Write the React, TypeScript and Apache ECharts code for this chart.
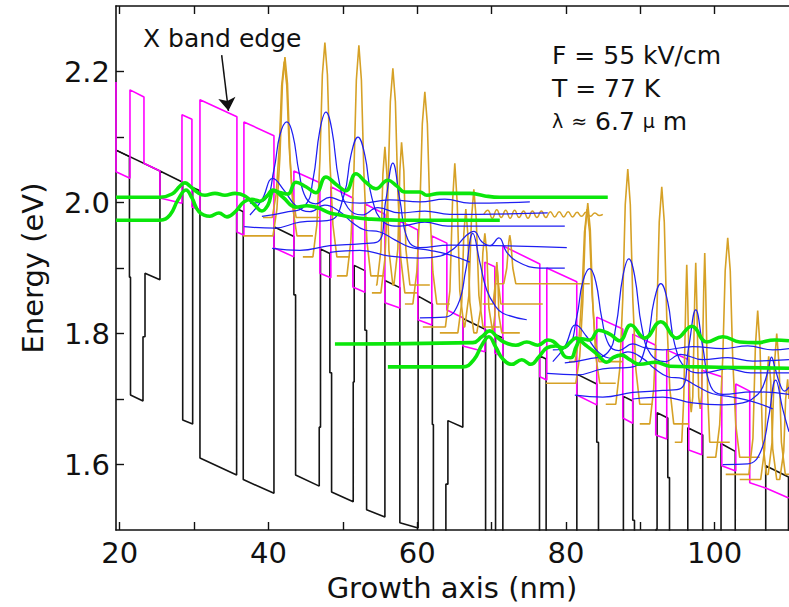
import React, { useEffect, useRef } from "react";
import * as echarts from "echarts";

// Axis ranges and ticks
const X_MIN = 19.5;
const X_MAX = 110;
const Y_MIN = 1.5;
const Y_MAX = 2.3;
const xTickValues = [20, 30, 40, 50, 60, 70, 80, 90, 100];
const xLabelValues = [20, 40, 60, 80, 100];
const yTickValues = [1.6, 1.7, 1.8, 1.9, 2.0, 2.1, 2.2];
const yLabelValues = [1.6, 1.8, 2.0, 2.2];

// Gamma conduction-band profile, growth position (nm) vs energy (eV)
const gammaBand = [
  [19.5, 2.08], [21.31, 2.07], [21.31, 1.886], [21.45, 1.886], [21.45, 1.706], [23.13, 1.697], [23.13, 1.795],
  [23.4, 1.795], [23.4, 1.892], [25.41, 1.882], [25.41, 2.048],
  [28.47, 2.031], [28.47, 1.668], [29.81, 1.662], [29.81, 2.023],
  [30.79, 2.018], [30.79, 1.61], [35.72, 1.584], [35.72, 1.991],
  [36.61, 1.986], [36.61, 1.577], [40.74, 1.556], [40.74, 1.963],
  [43.42, 1.948], [43.42, 1.859], [43.65, 1.859], [43.65, 1.584], [46.83, 1.567], [46.83, 1.657], [47.0, 1.657], [47.0, 1.929],
  [48.26, 1.922], [48.26, 1.74], [48.49, 1.74], [48.49, 1.558], [51.4, 1.543], [51.4, 1.726], [51.53, 1.726], [51.53, 1.904],
  [52.97, 1.896], [52.97, 1.805], [53.2, 1.805], [53.2, 1.531], [55.66, 1.52], [55.66, 1.881],
  [57.67, 1.87], [57.67, 1.511], [60.13, 1.503], [60.13, 1.857],
  [62.04, 1.845], [62.04, 1.661], [62.18, 1.661], [62.18, 1.481], [63.86, 1.472], [63.86, 1.57], [64.13, 1.57],
  [64.13, 1.667], [66.14, 1.657], [66.14, 1.823],
  [69.2, 1.806], [69.2, 1.443], [70.54, 1.437], [70.54, 1.798],
  [71.52, 1.793], [71.52, 1.385], [76.45, 1.359], [76.45, 1.766],
  [77.34, 1.761], [77.34, 1.352], [81.47, 1.331], [81.47, 1.738],
  [84.15, 1.723], [84.15, 1.634], [84.38, 1.634], [84.38, 1.359], [87.56, 1.342], [87.56, 1.432], [87.73, 1.432], [87.73, 1.704],
  [88.99, 1.697], [88.99, 1.515], [89.22, 1.515], [89.22, 1.333], [92.13, 1.318], [92.13, 1.501], [92.26, 1.501], [92.26, 1.679],
  [93.7, 1.671], [93.7, 1.58], [93.93, 1.58], [93.93, 1.306], [96.39, 1.295], [96.39, 1.656],
  [98.4, 1.645], [98.4, 1.286], [100.86, 1.278], [100.86, 1.632],
  [102.77, 1.62], [102.77, 1.436], [102.91, 1.436], [102.91, 1.256], [104.59, 1.247], [104.59, 1.345], [104.86, 1.345],
  [104.86, 1.442], [106.87, 1.432], [106.87, 1.598],
  [109.93, 1.581], [109.93, 1.218], [111.27, 1.212],
];
const gammaBarrierCap = [[19.5, 2.08], [25.41, 2.048]];

// X-valley band edge
const xBandEdge = [
  [19.5, 2.184], [19.5, 2.047], [21.38, 2.037], [21.38, 2.172], [23.26, 2.161], [23.26, 2.06], [25.41, 2.048],
  [25.41, 2.007], [28.37, 1.999], [28.37, 2.134], [29.71, 2.127], [29.71, 1.993], [30.79, 1.989], [30.79, 2.157],
  [35.76, 2.131], [35.76, 1.955], [36.7, 1.95], [36.7, 2.123], [40.74, 2.102], [40.74, 1.931], [43.42, 1.917],
  [43.42, 2.048], [46.92, 2.03], [46.92, 1.892], [48.39, 1.885], [48.39, 2.024], [51.35, 2.007], [51.35, 1.871],
  [52.97, 1.863], [52.97, 1.998], [55.66, 1.982], [55.66, 1.847], [57.67, 1.839], [57.67, 1.972], [60.09, 1.958],
  [60.09, 1.821], [61.97, 1.813], [61.97, 1.949], [63.99, 1.938], [63.99, 1.836], [66.14, 1.824], [66.14, 1.781],
  [69.1, 1.772], [69.1, 1.909], [70.44, 1.902], [70.44, 1.77], [71.52, 1.764], [71.52, 1.934], [76.49, 1.906],
  [76.49, 1.734], [77.43, 1.729], [77.43, 1.9], [81.46, 1.879], [81.46, 1.706], [84.15, 1.691], [84.15, 1.825],
  [87.65, 1.807], [87.65, 1.671], [88.99, 1.663], [88.99, 1.799], [92.08, 1.782], [92.08, 1.645], [93.56, 1.639],
  [93.56, 1.775], [96.52, 1.76], [96.52, 1.622], [98.27, 1.615], [98.27, 1.744], [100.96, 1.734], [100.96, 1.598],
  [102.84, 1.59], [102.84, 1.723], [104.72, 1.712], [104.72, 1.572], [106.87, 1.564], [109.96, 1.549],
];

// X-valley states (probability densities), first period
const orangeA0 = [[39.26, 1.977], [40.51, 1.977], [41.04, 2.013], [41.45, 2.084], [41.78, 2.179], [42.12, 2.215], [42.46, 2.179], [42.79, 2.084], [43.2, 2.013], [43.73, 1.977], [46.92, 1.977]];
const orangeA1 = [[36.61, 1.949], [40.61, 1.949], [41.14, 1.99], [41.55, 2.072], [41.88, 2.181], [42.22, 2.222], [42.56, 2.181], [42.89, 2.072], [43.3, 1.99], [43.83, 1.949], [45.98, 1.949]];
const orangeA2 = [[44.63, 1.917], [45.98, 1.917], [46.51, 1.966], [46.92, 2.064], [47.25, 2.195], [47.59, 2.244], [47.93, 2.195], [48.26, 2.064], [48.67, 1.966], [49.2, 1.917], [50.95, 1.917]];
const orangeA3 = [[49.2, 1.888], [50.55, 1.888], [51.08, 1.941], [51.49, 2.046], [51.82, 2.187], [52.16, 2.24], [52.5, 2.187], [52.83, 2.046], [53.24, 1.941], [53.77, 1.888], [55.52, 1.888]];
const orangeA4 = [[53.91, 1.862], [55.12, 1.862], [55.65, 1.913], [56.06, 2.016], [56.39, 2.154], [56.73, 2.205], [57.07, 2.154], [57.4, 2.016], [57.81, 1.913], [58.34, 1.862], [59.96, 1.862]];
const orangeA4b = [[54.45, 1.874], [54.58, 1.874], [55.12, 1.927], [55.39, 2.043], [55.66, 2.085], [55.93, 2.043], [56.2, 1.927], [56.73, 1.874], [56.87, 1.874], [57.4, 1.929], [57.67, 2.048], [57.9, 2.092], [58.21, 2.048], [58.48, 1.929], [59.02, 1.874], [61.7, 1.874]];
const orangeA5 = [[58.35, 1.845], [59.42, 1.845], [59.95, 1.894], [60.36, 1.991], [60.69, 2.12], [61.03, 2.169], [61.37, 2.12], [61.7, 1.991], [62.11, 1.894], [62.64, 1.845], [64.39, 1.845]];
const orangeA6 = [[60.76, 1.81], [63.8, 1.81], [64.4, 1.865], [64.75, 2.0], [65.06, 2.06], [65.38, 2.0], [65.73, 1.865], [66.3, 1.81], [66.4, 1.81], [66.95, 1.858], [67.3, 1.975], [67.62, 2.02], [67.94, 1.975], [68.3, 1.858], [68.85, 1.81], [71.11, 1.81]];
const orangeA7 = [[63.05, 1.801], [65.47, 1.801], [66.0, 1.848], [66.27, 1.952], [66.54, 1.99], [66.81, 1.952], [67.08, 1.848], [67.62, 1.801], [68.02, 1.801], [68.56, 1.839], [68.83, 1.923], [69.1, 1.953], [69.37, 1.923], [69.64, 1.839], [70.17, 1.801], [70.44, 1.828], [70.58, 1.887], [70.71, 1.909], [70.85, 1.887], [70.98, 1.828], [71.38, 1.801], [73.8, 1.801]];
const orangeA9 = [[70.44, 1.876], [71.65, 1.876], [72.05, 1.9], [72.32, 1.94], [72.45, 1.95], [72.59, 1.94], [72.86, 1.9], [73.26, 1.876], [83.21, 1.876]];
const orangeA10 = [[68.8, 1.845], [70.2, 1.845], [70.55, 1.88], [70.71, 1.905], [70.88, 1.88], [71.25, 1.845], [76.89, 1.845]];
// extended (continuum-like) state with small ripples
const orangeWavy = [
  [68.96, 1.982], [69.5, 1.988], [70.1, 1.976], [70.7, 1.989], [71.3, 1.977], [71.9, 1.988], [72.5, 1.976],
  [73.1, 1.988], [73.7, 1.977], [74.3, 1.987], [74.9, 1.976], [75.5, 1.987], [76.1, 1.977], [76.7, 1.987],
  [77.3, 1.977], [77.9, 1.986], [78.5, 1.978], [79.1, 1.986], [79.7, 1.978], [80.3, 1.986], [80.9, 1.978],
  [81.5, 1.985], [82.1, 1.979], [82.7, 1.985], [83.3, 1.979], [83.9, 1.984], [84.5, 1.98], [84.96, 1.982],
];
// X-valley states, second period
const orangeB0 = [[80.4, 1.757], [81.23, 1.757], [81.76, 1.792], [82.17, 1.862], [82.5, 1.955], [82.84, 1.99], [83.18, 1.955], [83.51, 1.862], [83.92, 1.792], [84.45, 1.757], [87.65, 1.757]];
const orangeB1 = [[77.3, 1.724], [81.33, 1.724], [81.86, 1.765], [82.27, 1.848], [82.6, 1.958], [82.94, 1.999], [83.28, 1.958], [83.61, 1.848], [84.02, 1.765], [84.55, 1.724], [86.7, 1.724]];
const orangeB2 = [[85.36, 1.692], [86.71, 1.692], [87.24, 1.746], [87.65, 1.854], [87.98, 1.997], [88.32, 2.051], [88.66, 1.997], [88.99, 1.854], [89.4, 1.746], [89.93, 1.692], [91.68, 1.692]];
const orangeB3 = [[89.93, 1.662], [91.28, 1.662], [91.81, 1.716], [92.22, 1.825], [92.55, 1.97], [92.89, 2.024], [93.23, 1.97], [93.56, 1.825], [93.97, 1.716], [94.5, 1.662], [96.52, 1.662]];
const orangeB4 = [[94.64, 1.634], [95.58, 1.634], [95.85, 1.702], [96.12, 1.851], [96.25, 1.905], [96.38, 1.851], [96.65, 1.702], [96.85, 1.68], [97.06, 1.703], [97.32, 1.853], [97.46, 1.908], [97.59, 1.853], [97.86, 1.703], [98.06, 1.685], [98.26, 1.706], [98.53, 1.865], [98.67, 1.923], [98.8, 1.865], [99.07, 1.706], [99.34, 1.634], [102.03, 1.634]];
const orangeB5 = [[98.94, 1.611], [100.15, 1.611], [100.68, 1.661], [101.09, 1.762], [101.42, 1.896], [101.76, 1.946], [102.1, 1.896], [102.43, 1.762], [102.84, 1.661], [103.37, 1.611], [106.06, 1.611]];
const orangeB6 = [[101.49, 1.585], [104.6, 1.585], [105.15, 1.64], [105.48, 1.78], [105.79, 1.835], [106.1, 1.78], [106.43, 1.64], [106.95, 1.585], [107.2, 1.585], [107.72, 1.634], [108.04, 1.752], [108.35, 1.8], [108.66, 1.752], [108.98, 1.634], [109.5, 1.585], [110, 1.585]];
const orangeB7 = [[103.37, 1.577], [106.19, 1.577], [106.73, 1.624], [107.0, 1.727], [107.27, 1.765], [107.54, 1.727], [107.81, 1.624], [108.35, 1.577], [108.75, 1.577], [109.29, 1.62], [109.55, 1.7], [109.82, 1.73], [110, 1.7]];

// Gamma-valley wavefunctions, first period
const blue1 = [[37.51, 1.999], [39.53, 2.004], [40.74, 2.05], [41.54, 2.103], [42.48, 2.123], [43.29, 2.103], [44.1, 2.047], [45.04, 2.007], [46.38, 1.998], [48.26, 2.008], [49.88, 2.002], [52.3, 1.999], [56.33, 2.004], [60.36, 2.001], [63.72, 2.005], [67.08, 1.999], [75.15, 2.001]];
const blue2 = [[39.12, 1.979], [42.22, 1.985], [44.9, 1.995], [45.98, 2.034], [46.92, 2.111], [47.73, 2.138], [48.53, 2.111], [49.47, 2.034], [50.68, 1.992], [52.57, 1.981], [54.71, 1.992], [57.67, 1.984], [61.03, 1.987], [64.39, 1.982], [77.56, 1.984]];
const blue3 = [[36.74, 1.963], [40.87, 1.961], [44.23, 1.97], [48.26, 1.973], [50.15, 2.011], [51.09, 2.072], [52.03, 2.1], [52.97, 2.072], [53.91, 2.007], [55.52, 1.97], [57.67, 1.964], [61.03, 1.97], [64.12, 1.964], [79.85, 1.964]];
const blue4 = [[40.5, 1.93], [44.23, 1.927], [48.26, 1.934], [52.3, 1.937], [54.71, 1.94], [55.79, 2.004], [56.73, 2.06], [57.67, 2.004], [58.75, 1.943], [60.36, 1.931], [64.39, 1.935], [80.12, 1.931]];
const blue5 = [[48.26, 1.924], [52.3, 1.927], [56.33, 1.918], [60.36, 1.915], [63.05, 1.918], [65.06, 1.931], [66.54, 1.949], [67.62, 1.956], [68.69, 1.94], [69.77, 1.934], [70.98, 1.946], [72.05, 1.924], [73.8, 1.908], [76.49, 1.9], [79.85, 1.9]];
const blue6 = [[37.51, 1.981], [39.12, 2.004], [40.6, 2.037], [42.08, 2.019], [43.69, 1.995], [45.58, 1.986], [47.59, 1.996], [49.61, 1.986], [51.22, 1.97], [52.97, 1.958], [54.98, 1.955], [56.99, 1.943], [59.02, 1.932], [61.7, 1.927], [64.39, 1.92], [67.08, 1.909]];
const blue7 = [[60.36, 1.824], [63.72, 1.825], [65.47, 1.844], [66.54, 1.897], [67.48, 1.953], [68.42, 1.909], [69.36, 1.866], [70.44, 1.843], [71.52, 1.831], [74.74, 1.821]];
// Gamma-valley wavefunctions, second period
const blue1b = [[78.24, 1.775], [80.26, 1.78], [81.47, 1.826], [82.27, 1.879], [83.21, 1.899], [84.02, 1.879], [84.83, 1.823], [85.77, 1.783], [87.11, 1.774], [88.99, 1.784], [90.61, 1.778], [93.03, 1.775], [97.06, 1.78], [101.09, 1.777], [104.45, 1.781], [107.81, 1.775], [110, 1.777]];
const blue2b = [[79.85, 1.755], [82.95, 1.761], [85.63, 1.771], [86.71, 1.81], [87.65, 1.887], [88.46, 1.914], [89.26, 1.887], [90.2, 1.81], [91.41, 1.768], [93.3, 1.757], [95.44, 1.768], [98.4, 1.76], [101.76, 1.763], [105.12, 1.758], [110, 1.76]];
const blue3b = [[77.47, 1.739], [81.6, 1.737], [84.96, 1.746], [88.99, 1.749], [90.88, 1.787], [91.82, 1.848], [92.76, 1.876], [93.7, 1.848], [94.64, 1.783], [96.25, 1.746], [98.4, 1.74], [101.76, 1.746], [104.85, 1.74], [110, 1.74]];
const blue4b = [[81.2, 1.706], [84.96, 1.703], [88.99, 1.71], [93.03, 1.713], [95.44, 1.716], [96.52, 1.78], [97.46, 1.836], [98.4, 1.78], [99.48, 1.719], [101.09, 1.707], [105.12, 1.711], [110, 1.707]];
const blue5b = [[88.99, 1.7], [93.03, 1.703], [97.06, 1.694], [101.09, 1.691], [103.78, 1.694], [105.79, 1.707], [106.6, 1.722], [107.27, 1.748], [107.65, 1.764], [108.1, 1.748], [108.8, 1.722], [109.4, 1.712], [110, 1.718]];
const blue6b = [[78.24, 1.757], [79.85, 1.78], [81.33, 1.813], [82.81, 1.795], [84.42, 1.771], [86.31, 1.762], [88.32, 1.772], [90.34, 1.762], [91.95, 1.746], [93.7, 1.734], [95.71, 1.731], [97.72, 1.719], [99.75, 1.708], [102.43, 1.703], [105.12, 1.696], [107.81, 1.685]];
const blue7b = [[101.09, 1.6], [104.45, 1.601], [106.2, 1.62], [107.27, 1.673], [108.21, 1.729], [109.15, 1.685], [110, 1.65]];

// Laser transition states (upper / lower), two periods
const greenUpper1 = [[19.5, 2.008], [25.41, 2.008], [27.03, 2.013], [28.1, 2.025], [28.77, 2.03], [29.45, 2.025], [30.39, 2.016], [31.46, 2.011], [32.81, 2.014], [34.15, 2.011], [35.5, 2.014], [36.84, 2.01], [38.18, 1.996], [39.12, 1.987], [39.93, 1.996], [40.74, 2.018], [41.68, 2.015], [42.62, 2.013], [43.69, 2.031], [45.04, 2.024], [46.38, 2.015], [47.73, 2.039], [49.07, 2.028], [50.42, 2.018], [51.76, 2.044], [53.1, 2.031], [54.45, 2.021], [56.06, 2.034], [57.27, 2.025], [58.35, 2.016], [60.36, 2.016], [61.3, 2.011], [63.05, 2.014], [67.08, 2.014], [69.1, 2.01], [71.11, 2.008], [85.63, 2.008]];
const greenLower1 = [[19.5, 1.973], [25.41, 1.973], [26.76, 1.981], [27.83, 2.004], [28.91, 2.019], [29.71, 2.007], [30.66, 1.986], [32.13, 1.979], [33.34, 1.984], [34.42, 1.978], [35.63, 1.987], [36.7, 2.001], [37.78, 2.005], [38.86, 2.002], [39.8, 2.01], [40.6, 2.019], [41.95, 2.008], [43.69, 1.993], [45.17, 1.995], [46.65, 1.992], [48.26, 1.984], [49.61, 1.981], [50.95, 1.978], [53.24, 1.975], [57.67, 1.973], [71.11, 1.973]];
const greenUpper2 = [[48.94, 1.784], [67.48, 1.786], [68.69, 1.795], [69.77, 1.804], [70.71, 1.795], [71.65, 1.787], [73.27, 1.782], [74.74, 1.787], [76.22, 1.782], [77.57, 1.79], [78.91, 1.782], [79.98, 1.764], [80.66, 1.763], [81.46, 1.782], [82.14, 1.792], [83.21, 1.79], [84.42, 1.805], [85.9, 1.799], [87.24, 1.789], [88.72, 1.813], [90.6, 1.793], [92.75, 1.818], [94.9, 1.793], [96.92, 1.811], [98.94, 1.787], [101.09, 1.795], [103.37, 1.787], [105.66, 1.786], [108.08, 1.79], [110, 1.789]];
const greenLower2 = [[56.06, 1.749], [66.14, 1.749], [67.62, 1.76], [68.69, 1.782], [69.63, 1.795], [70.58, 1.779], [71.52, 1.761], [72.73, 1.753], [74.07, 1.76], [75.28, 1.753], [76.35, 1.764], [77.43, 1.778], [78.64, 1.781], [79.58, 1.778], [80.52, 1.786], [81.33, 1.793], [82.67, 1.782], [84.15, 1.769], [85.5, 1.756], [86.44, 1.764], [87.51, 1.767], [88.59, 1.76], [89.93, 1.753], [92.08, 1.756], [93.96, 1.75], [97.99, 1.749], [110, 1.747]];

// Arrow pointing at the X band edge
const xBandArrow = [[33.71, 2.225], [34.62, 2.14]];

const orangeStates = [orangeA0, orangeA1, orangeA2, orangeA3, orangeA4, orangeA4b, orangeA5, orangeA6, orangeA7, orangeA9, orangeA10, orangeB0, orangeB1, orangeB2, orangeB3, orangeB4, orangeB5, orangeB6, orangeB7];
const blueStates = [blue1, blue2, blue3, blue4, blue5, blue6, blue7, blue1b, blue2b, blue3b, blue4b, blue5b, blue6b, blue7b];
const greenStates = [greenUpper1, greenLower1, greenUpper2, greenLower2];

const FONT = '"DejaVu Sans", Verdana, sans-serif';
const INK = "#111";
const BLACK = "#141414";
const MAGENTA = "#ff00ff";
const ORANGE = "#d6a126";
const BLUE = "#1e1ef2";
const GREEN = "#0be60b";

function curve(data: number[][], color: string, width: number, z: number, smooth: number | boolean = false) {
  return {
    type: "line",
    data,
    symbol: "none",
    showSymbol: false,
    smooth,
    clip: true,
    silent: true,
    z,
    lineStyle: { color, width },
    emphasis: { disabled: true },
  };
}

function buildOption() {
  const axisLine = { onZero: false, lineStyle: { color: INK, width: 1.6 } };
  const tickStyle = { color: INK, width: 1.4 };
  return {
    animation: false,
    backgroundColor: "#ffffff",
    grid: { left: 116, right: 0, top: 6, bottom: 77, containLabel: false },
    xAxis: [
      {
        type: "value",
        min: X_MIN,
        max: X_MAX,
        position: "bottom",
        axisLine,
        axisTick: { inside: true, length: 8, customValues: xTickValues, lineStyle: tickStyle },
        axisLabel: { customValues: xLabelValues, margin: 8, color: INK, fontFamily: FONT, fontSize: 29 },
        splitLine: { show: false },
      },
      {
        type: "value",
        min: X_MIN,
        max: X_MAX,
        position: "top",
        axisLine,
        axisTick: { inside: true, length: 8, customValues: xTickValues, lineStyle: tickStyle },
        axisLabel: { show: false },
        splitLine: { show: false },
      },
    ],
    yAxis: {
      type: "value",
      min: Y_MIN,
      max: Y_MAX,
      axisLine,
      axisTick: { inside: true, length: 8, customValues: yTickValues, lineStyle: tickStyle },
      axisLabel: {
        customValues: yLabelValues,
        formatter: (v: number) => v.toFixed(1),
        margin: 6,
        color: INK,
        fontFamily: FONT,
        fontSize: 29,
      },
      splitLine: { show: false },
    },
    series: [
      curve(gammaBand, BLACK, 1.6, 2),
      curve(gammaBarrierCap, BLACK, 1.6, 2),
      curve(xBandEdge, MAGENTA, 1.6, 3),
      ...orangeStates.map((d) => curve(d, ORANGE, 1.6, 4)),
      curve(orangeWavy, ORANGE, 1.5, 4, 0.5),
      ...blueStates.map((d) => curve(d, BLUE, 1.25, 5, 0.45)),
      ...greenStates.map((d) => curve(d, GREEN, 3.6, 6, 0.45)),
      {
        type: "lines",
        coordinateSystem: "cartesian2d",
        xAxisIndex: 0,
        yAxisIndex: 0,
        silent: true,
        z: 7,
        symbol: ["none", "arrow"],
        symbolSize: 13,
        lineStyle: { color: INK, width: 1.5, opacity: 1, curveness: 0 },
        data: [{ coords: xBandArrow }],
      },
    ],
    graphic: [
      {
        type: "text",
        x: 143,
        y: 38,
        silent: true,
        style: { text: "X band edge", fontFamily: FONT, fontSize: 25, fill: INK, align: "left", verticalAlign: "middle" },
      },
      {
        type: "text",
        x: 552,
        y: 55,
        silent: true,
        style: { text: "F = 55 kV/cm", fontFamily: FONT, fontSize: 25, fill: INK, align: "left", verticalAlign: "middle" },
      },
      {
        type: "text",
        x: 552,
        y: 88,
        silent: true,
        style: { text: "T = 77 K", fontFamily: FONT, fontSize: 25, fill: INK, align: "left", verticalAlign: "middle" },
      },
      {
        type: "text",
        x: 552,
        y: 121,
        silent: true,
        style: {
          text: "{g|λ} {g|≈} 6.7 {g|μ} m",
          fontFamily: FONT,
          fontSize: 25,
          fill: INK,
          align: "left",
          verticalAlign: "middle",
          rich: { g: { fontFamily: FONT, fontSize: 19, fill: INK } },
        },
      },
      {
        type: "text",
        x: 452,
        y: 588,
        silent: true,
        style: { text: "Growth axis (nm)", fontFamily: FONT, fontSize: 29, fill: INK, align: "center", verticalAlign: "middle" },
      },
      {
        type: "text",
        x: 33,
        y: 268,
        rotation: Math.PI / 2,
        silent: true,
        style: { text: "Energy (eV)", fontFamily: FONT, fontSize: 29, fill: INK, align: "center", verticalAlign: "middle" },
      },
    ],
  };
}

export default function App() {
  const ref = useRef<HTMLDivElement>(null);
  useEffect(() => {
    const el = ref.current;
    if (!el) return;
    const chart = echarts.init(el, null, { renderer: "svg" });
    chart.setOption(buildOption() as any);
    return () => chart.dispose();
  }, []);
  return (
    <div
      ref={ref}
      style={{ position: "fixed", left: 0, top: 0, width: 789, height: 607, background: "#ffffff" }}
    />
  );
}
